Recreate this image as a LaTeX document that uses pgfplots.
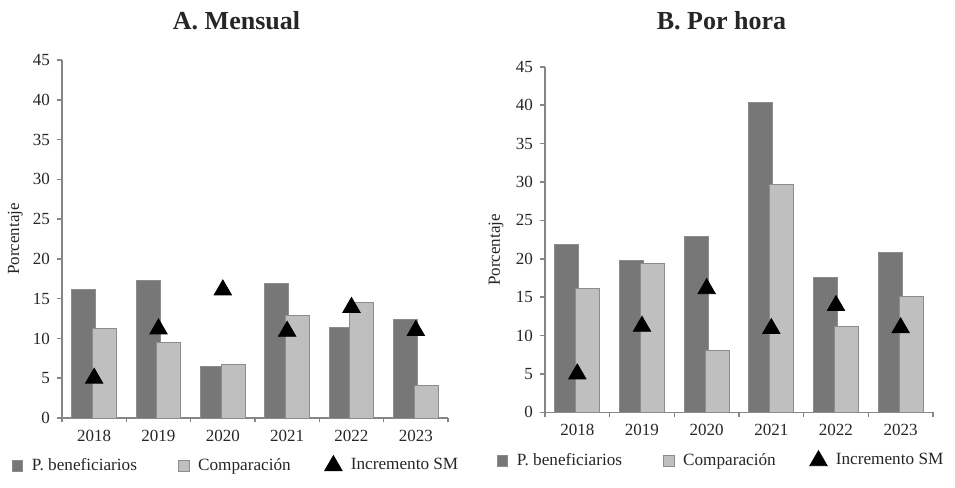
\documentclass[border=0pt]{standalone}
\usepackage{fontspec}
\setmainfont{Liberation Serif}
\usepackage{pgfplots}
\pgfplotsset{compat=1.18}
\definecolor{pdark}{HTML}{777777}
\definecolor{plight}{HTML}{BFBFBF}
\definecolor{pedge}{HTML}{8C8C8C}
\definecolor{axgray}{HTML}{868686}

\pgfplotsset{
  mystyle/.style={
    scale only axis, anchor=south west,
    xmin=-0.5, xmax=5.5, ymin=0, ymax=45,
    axis lines=left,
    axis line style={-, draw=axgray, line width=0.8pt},
    ytick={0,5,...,45},
    xtick={0,...,5},
    xticklabels={2018,2019,2020,2021,2022,2023},
    xtick style={draw=none},
    extra x ticks={-0.5,0.5,1.5,2.5,3.5,4.5,5.5},
    extra x tick labels={},
    extra x tick style={xtick style={draw=axgray, line width=0.8pt}, major tick length=2.2pt, tick align=outside},
    ytick style={draw=axgray, line width=0.8pt},
    tick align=outside,
    major tick length=2.5pt,
    /pgf/number format/assume math mode=true,
    tick label style={font=\fontsize{8.5}{10}\selectfont, text=black!85},
    ylabel={Porcentaje},
    ylabel style={font=\fontsize{8.5}{10}\selectfont, text=black!85, anchor=center, rotate=0},
    legend columns=3,
    legend cell align=left,
    legend style={draw=none, fill=none, inner sep=0pt, outer sep=0pt, anchor=west,
      font=\fontsize{8.6}{10}\selectfont, text=black!85,
      /tikz/column 2/.style={column sep=18.5pt},
      /tikz/column 4/.style={column sep=15pt}},
  },
  barP/.style={ybar, bar width=12pt, bar shift=-5.2pt, fill=pdark, draw=pedge, line width=0.5pt,
    legend image code/.code={\draw[fill=pdark, draw=pedge, line width=0.4pt] (0pt,-2.65pt) rectangle (5.3pt,2.65pt); \path (7.6pt,0pt);}},
  barC/.style={ybar, bar width=12pt, bar shift=5.2pt, fill=plight, draw=pedge, line width=0.5pt,
    legend image code/.code={\draw[fill=plight, draw=pedge, line width=0.4pt] (0pt,-2.65pt) rectangle (5.3pt,2.65pt); \path (7.6pt,0pt);}},
  triSM/.style={only marks, mark=triangle*, mark size=5pt, color=black,
    legend image code/.code={\pgfuseplotmark{triangle*}\path (6.5pt,0pt);}},
}

\begin{document}
\begin{tikzpicture}
\path[use as bounding box] (0,0) rectangle (477.5pt,-244pt);

\node[font=\bfseries\fontsize{13}{15}\selectfont, anchor=base, text=black!85] at (118.25pt,-14.65pt) {A. Mensual};
\node[font=\bfseries\fontsize{13}{15}\selectfont, anchor=base, text=black!85] at (360.75pt,-14.65pt) {B. Por hora};

\begin{axis}[mystyle, at={(31pt,-209pt)}, width=193pt, height=179pt,
  ylabel style={at={(axis description cs:-0.121,0.5)}},
  legend style={at={(axis description cs:-0.13,-0.133)}}]
\addplot[barP] coordinates {(0,16.2) (1,17.3) (2,6.45) (3,16.9) (4,11.35) (5,12.35)};
\addplot[barC] coordinates {(0,11.2) (1,9.5) (2,6.75) (3,12.85) (4,14.5) (5,4.1)};
\addplot[triSM] coordinates {(0,5.0) (1,11.2) (2,16.1) (3,10.9) (4,13.9) (5,11.0)};
\legend{P. beneficiarios, Comparación, Incremento SM}
\end{axis}

\begin{axis}[mystyle, at={(272.5pt,-206.15pt)}, width=194pt, height=172.8pt,
  ylabel style={at={(axis description cs:-0.126,0.47)}},
  legend style={at={(axis description cs:-0.124,-0.14)}}]
\addplot[barP] coordinates {(0,21.9) (1,19.8) (2,22.95) (3,40.4) (4,17.5) (5,20.8)};
\addplot[barC] coordinates {(0,16.1) (1,19.4) (2,8.07) (3,29.6) (4,11.2) (5,15.1)};
\addplot[triSM] coordinates {(0,5.0) (1,11.2) (2,16.1) (3,10.9) (4,13.9) (5,11.0)};
\legend{P. beneficiarios, Comparación, Incremento SM}
\end{axis}
\end{tikzpicture}
\end{document}
